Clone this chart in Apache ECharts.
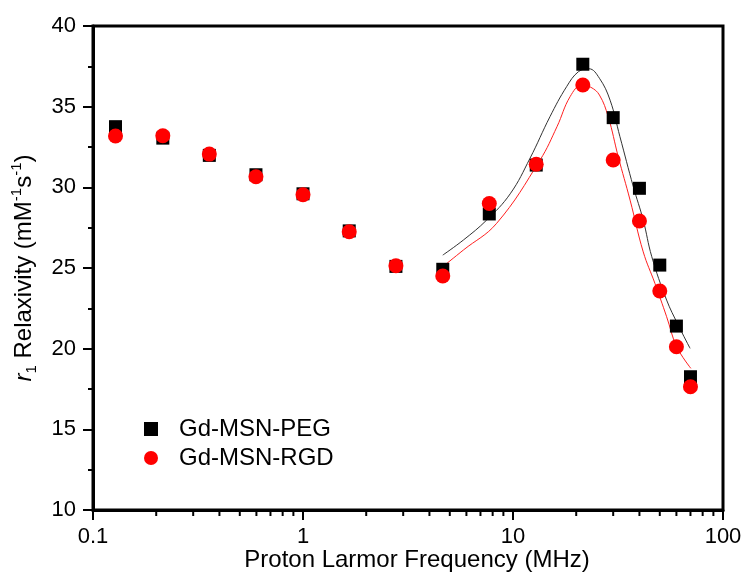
<!DOCTYPE html>
<html>
<head>
<meta charset="utf-8">
<script src="https://cdn.jsdelivr.net/npm/echarts@6/dist/echarts.min.js"></script>
<style>
html,body{margin:0;padding:0;background:#fff;}
#chart{width:745px;height:574px;}
</style>
</head>
<body>
<div id="chart"></div>
<script>
// Data
var freq = [0.128, 0.215, 0.358, 0.597, 1.0, 1.66, 2.77, 4.63, 7.71, 12.9, 21.5, 30, 40, 50, 60, 70];
var pegValues = [33.76, 33.05, 31.98, 30.78, 29.6, 27.3, 25.1, 24.92, 28.35, 31.38, 37.63, 34.32, 29.94, 25.18, 21.4, 18.26];
var rgdValues = [33.18, 33.2, 32.06, 30.66, 29.54, 27.25, 25.14, 24.5, 29.0, 31.43, 36.34, 31.69, 27.91, 23.57, 20.12, 17.64];

var pegFitX = [4.63, 5.8, 7.49, 9.7, 12.05, 15.0, 18.0, 20.5, 23.0, 25.8, 29.0, 32.3, 37.4, 41.7, 45.8, 53.9, 61, 69.7];
var pegFitY = [25.8, 26.73, 27.97, 29.6, 31.8, 34.38, 36.24, 37.17, 37.35, 36.76, 35.4, 33.14, 30.04, 27.97, 25.7, 23.01, 21.5, 20.02];
var rgdFitX = [4.63, 5.8, 8.36, 13.45, 16.2, 18.7, 21.3, 23.5, 25.8, 28.4, 31.7, 36.1, 41.7, 47.4, 53.9, 60.2, 70.3];
var rgdFitY = [25.08, 26.11, 27.77, 31.69, 33.76, 35.62, 36.34, 36.2, 35.72, 34.38, 31.9, 29.21, 26.0, 24.05, 21.98, 20.12, 18.78];

var seriesNames = ['Gd-MSN-PEG', 'Gd-MSN-RGD'];
var xMinorTicks = [0.2, 0.3, 0.4, 0.5, 0.6, 0.7, 0.8, 0.9, 2, 3, 4, 5, 6, 7, 8, 9, 20, 30, 40, 50, 60, 70, 80, 90];
var xTitle = 'Proton Larmor Frequency (MHz)';

function pairs(xs, ys) { return xs.map(function (x, i) { return [x, ys[i]]; }); }

var FONT = 'Liberation Sans';
var Y_MIN = 10;
var chart = echarts.init(document.getElementById('chart'), null, {renderer: 'canvas'});
chart.setOption({
  animation: false,
  backgroundColor: '#fff',
  textStyle: {fontFamily: FONT},
  grid: {left: 93, right: 22, top: 26, bottom: 64, show: true, borderColor: '#000', borderWidth: 3,
    backgroundColor: 'transparent', containLabel: false, outerBoundsMode: 'none'},
  legend: {
    orient: 'vertical', left: 139, top: 412, itemWidth: 14, itemHeight: 14, itemGap: 5,
    data: [{name: seriesNames[0], icon: 'rect'}, {name: seriesNames[1], icon: 'circle'}],
    formatter: function (n) { return '{t|' + n + '}'; },
    textStyle: {fontFamily: FONT, color: '#000', rich: {t: {fontFamily: FONT, fontSize: 24, color: '#000', lineHeight: 26, padding: [0, 0, 0, 16]}}}
  },
  xAxis: {
    type: 'log', logBase: 10, min: 0.1, max: 100,
    name: xTitle, nameLocation: 'middle', nameGap: 39, nameMoveOverlap: false,
    nameTextStyle: {fontFamily: FONT, fontSize: 24, lineHeight: 22, color: '#000', padding: [0, 0, 0, 18]},
    axisLine: {show: true, onZero: false, lineStyle: {color: '#000', width: 3}},
    axisTick: {show: true, inside: false, length: 10, lineStyle: {color: '#000', width: 2}},
    minorTick: {show: false},
    axisLabel: {fontFamily: FONT, fontSize: 22, color: '#000', margin: 16,
      formatter: function (v) { return String(v); }},
    splitLine: {show: false}
  },
  yAxis: {
    type: 'value', min: Y_MIN, max: 40, interval: 5,
    name: '{i|r}{sub|1}{n| Relaxivity (mM}{sup|-1}{n|s}{sup|-1}{n|)}',
    nameLocation: 'middle', nameGap: 54, nameMoveOverlap: false,
    nameTextStyle: {fontFamily: FONT, fontSize: 24, color: '#000', rich: {
      i: {fontFamily: FONT, fontSize: 24, fontStyle: 'italic', color: '#000', lineHeight: 30},
      n: {fontFamily: FONT, fontSize: 24, color: '#000', lineHeight: 30},
      sub: {fontFamily: FONT, fontSize: 15, color: '#000', verticalAlign: 'bottom', lineHeight: 16},
      sup: {fontFamily: FONT, fontSize: 15, color: '#000', verticalAlign: 'top', lineHeight: 16}
    }},
    axisLine: {show: true, onZero: false, lineStyle: {color: '#000', width: 3}},
    axisTick: {show: true, inside: false, length: 10, lineStyle: {color: '#000', width: 2}},
    minorTick: {show: true, splitNumber: 2, length: 5, lineStyle: {color: '#000', width: 2}},
    axisLabel: {fontFamily: FONT, fontSize: 22, color: '#000', margin: 17},
    splitLine: {show: false}
  },
  series: [
    {name: 'minor ticks', type: 'custom', data: xMinorTicks.map(function (v) { return [v, Y_MIN]; }),
      silent: true, clip: false, z: 5, legendHoverLink: false, tooltip: {show: false},
      renderItem: function (params, api) {
        var p = api.coord([api.value(0), api.value(1)]);
        return {type: 'line', shape: {x1: p[0], y1: p[1] + 1, x2: p[0], y2: p[1] + 6},
          style: {stroke: '#000', lineWidth: 2}};
      }},
    {name: 'PEG fit', type: 'line', data: pairs(pegFitX, pegFitY), smooth: 0.4,
      showSymbol: false, symbol: 'none', lineStyle: {color: '#333', width: 1}, z: 1, silent: true},
    {name: 'RGD fit', type: 'line', data: pairs(rgdFitX, rgdFitY), smooth: 0.4,
      showSymbol: false, symbol: 'none', lineStyle: {color: '#ff2020', width: 1}, z: 1, silent: true},
    {name: seriesNames[0], type: 'scatter', data: pairs(freq, pegValues),
      symbol: 'rect', symbolSize: 13, itemStyle: {color: '#000', opacity: 1}, z: 3},
    {name: seriesNames[1], type: 'scatter', data: pairs(freq, rgdValues),
      symbol: 'circle', symbolSize: 15, itemStyle: {color: '#ff0000', opacity: 1}, z: 4}
  ]
});
</script>
</body>
</html>
